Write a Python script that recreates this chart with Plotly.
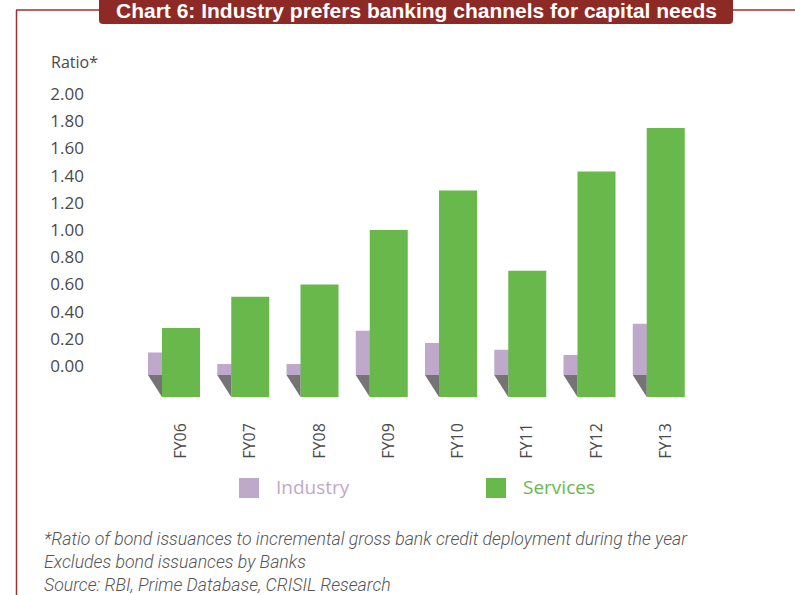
import plotly.graph_objects as go

# ---- data ----
categories = ["FY06", "FY07", "FY08", "FY09", "FY10", "FY11", "FY12", "FY13"]
industry = [0.10, 0.015, 0.015, 0.26, 0.17, 0.12, 0.08, 0.31]
services = [0.28, 0.51, 0.60, 1.00, 1.29, 0.70, 1.43, 1.75]
y_ticks = [0.0, 0.2, 0.4, 0.6, 0.8, 1.0, 1.2, 1.4, 1.6, 1.8, 2.0]
y_tick_labels = ["%.2f" % v for v in y_ticks]

title_text = "Chart 6: Industry prefers banking channels for capital needs"
notes = [
    "*Ratio of bond issuances to incremental gross bank credit deployment during the year",
    "Excludes bond issuances by Banks",
    "Source: RBI, Prime Database, CRISIL Research",
]

# ---- layout geometry (pixels) ----
W, H = 795, 595
L, R, T, B = 100, 75, 80, 188
PX_PER_UNIT = 136.0          # vertical scale
PX_PER_CAT = 69.25           # horizontal spacing
ZERO_Y = 366                 # pixel of 0.00
FIRST_X = 181                # pixel of first category centre
plot_w = W - L - R
plot_h = H - T - B
y_min = -((T + plot_h) - ZERO_Y) / PX_PER_UNIT
y_max = (ZERO_Y - T) / PX_PER_UNIT
x_min = -(FIRST_X - L) / PX_PER_CAT
x_max = x_min + plot_w / PX_PER_CAT

BAR_W = 38 / PX_PER_CAT
DEPTH_X = 14 / PX_PER_CAT
BACK_BASE = -(375 - ZERO_Y) / PX_PER_UNIT
FRONT_BASE = -(397 - ZERO_Y) / PX_PER_UNIT

C_IND = "#BFA9CA"
C_SER = "#69B84B"
C_SHADOW = "#747474"
C_FRAME = "#A02F2D"
C_TITLE = "#8E2A26"
C_TEXT = "#4A4A4A"


def px(x):
    return (x - L) / plot_w


def py(y):
    return 1 - (y - T) / plot_h


xs = list(range(len(categories)))
fig = go.Figure()

# back row: Industry
fig.add_trace(go.Bar(
    x=xs, y=[v - BACK_BASE for v in industry], base=BACK_BASE,
    width=BAR_W, offset=-BAR_W / 2 - DEPTH_X,
    marker=dict(color=C_IND, line=dict(width=0)), name="Industry",
    showlegend=False, hovertemplate="%{text}<extra>Industry</extra>",
    text=["%.2f" % v for v in industry], textposition="none",
))

# depth wedges (floor shadow between rows)
for i in xs:
    x0 = i - BAR_W / 2 - DEPTH_X
    x1 = i - BAR_W / 2
    fig.add_trace(go.Scatter(
        x=[x0, x1, x1, x0], y=[BACK_BASE, BACK_BASE, FRONT_BASE, BACK_BASE],
        mode="lines", fill="toself", fillcolor=C_SHADOW,
        line=dict(width=0, color=C_SHADOW), showlegend=False, hoverinfo="skip",
    ))

# front row: Services
fig.add_trace(go.Bar(
    x=xs, y=[v - FRONT_BASE for v in services], base=FRONT_BASE,
    width=BAR_W, offset=-BAR_W / 2,
    marker=dict(color=C_SER, line=dict(width=0)), name="Services",
    showlegend=False, hovertemplate="%{text}<extra>Services</extra>",
    text=["%.2f" % v for v in services], textposition="none",
))

fig.update_layout(
    width=W, height=H, margin=dict(l=L, r=R, t=T, b=B),
    paper_bgcolor="white", plot_bgcolor="white",
    barmode="overlay", showlegend=False,
    font=dict(family="Open Sans", color=C_TEXT),
    xaxis=dict(range=[x_min, x_max], tickmode="array", tickvals=xs,
               ticktext=categories, tickangle=-90, showgrid=False,
               zeroline=False, showline=False, ticks="",
               tickfont=dict(family="Open Sans", size=16, color=C_TEXT),
               ticklabelstandoff=12, fixedrange=True),
    yaxis=dict(range=[y_min, y_max], tickmode="array", tickvals=y_ticks,
               ticktext=y_tick_labels, showgrid=False, zeroline=False,
               showline=False, ticks="",
               tickfont=dict(family="Open Sans", size=17, color=C_TEXT),
               ticklabelstandoff=15, fixedrange=True),
)

shapes = []
# frame lines
shapes.append(dict(type="line", xref="paper", yref="paper",
                   x0=px(16.5), x1=px(16.5), y0=py(10), y1=py(600),
                   line=dict(color=C_FRAME, width=1.5)))
shapes.append(dict(type="line", xref="paper", yref="paper",
                   x0=px(16), x1=px(100), y0=py(10), y1=py(10),
                   line=dict(color=C_FRAME, width=1.5)))
shapes.append(dict(type="line", xref="paper", yref="paper",
                   x0=px(732), x1=px(800), y0=py(10), y1=py(10),
                   line=dict(color=C_FRAME, width=1.5)))
# title box with rounded bottom corners
xa, xb, ya, yb, r = 99, 733, -5, 24, 4
path = (f"M {px(xa)},{py(ya)} L {px(xb)},{py(ya)} L {px(xb)},{py(yb - r)} "
        f"Q {px(xb)},{py(yb)} {px(xb - r)},{py(yb)} L {px(xa + r)},{py(yb)} "
        f"Q {px(xa)},{py(yb)} {px(xa)},{py(yb - r)} Z")
shapes.append(dict(type="path", xref="paper", yref="paper", path=path,
                   fillcolor=C_TITLE, line=dict(width=0)))
# legend swatches
shapes.append(dict(type="rect", xref="paper", yref="paper",
                   x0=px(239), x1=px(259), y0=py(478), y1=py(498),
                   fillcolor=C_IND, line=dict(width=0)))
shapes.append(dict(type="rect", xref="paper", yref="paper",
                   x0=px(486), x1=px(506), y0=py(478), y1=py(498),
                   fillcolor=C_SER, line=dict(width=0)))
fig.update_layout(shapes=shapes)

ann = []
ann.append(dict(text="<b>" + title_text + "</b>", xref="paper", yref="paper",
                x=px(416), y=py(11), xanchor="center", yanchor="middle",
                showarrow=False,
                font=dict(family="Liberation Sans", size=21, color="white")))
ann.append(dict(text="Ratio*", xref="paper", yref="paper", x=px(49), y=py(62),
                xanchor="left", yanchor="middle", showarrow=False,
                font=dict(family="Open Sans", size=16, color=C_TEXT)))
ann.append(dict(text="Industry", xref="paper", yref="paper", x=px(274), y=py(487),
                xanchor="left", yanchor="middle", showarrow=False,
                font=dict(family="Open Sans", size=19, color=C_IND)))
ann.append(dict(text="Services", xref="paper", yref="paper", x=px(521), y=py(487),
                xanchor="left", yanchor="middle", showarrow=False,
                font=dict(family="Open Sans", size=19, color=C_SER)))
for k, line in enumerate(notes):
    ann.append(dict(text="<i>" + line + "</i>", xref="paper", yref="paper",
                    x=px(42), y=py(539 + 23 * k), xanchor="left", yanchor="middle",
                    showarrow=False,
                    font=dict(family="Roboto", size=17.7, color="#555555", weight=300)))
fig.update_layout(annotations=ann)

fig.write_html("out.html")
